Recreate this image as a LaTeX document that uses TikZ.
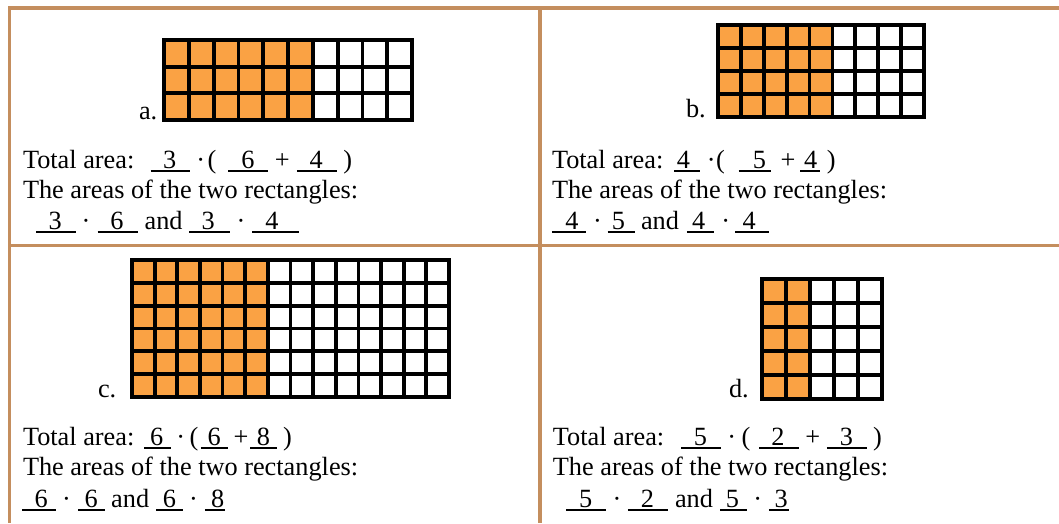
\documentclass[tikz,border=0pt]{standalone}
\usepackage{fontspec}
\setmainfont{Liberation Serif}
\definecolor{cellorange}{RGB}{250,162,68}
\definecolor{framebrown}{RGB}{196,142,94}
\tikzset{
  txt/.style={inner sep=0pt, outer sep=0pt, font=\fontsize{26.3}{30}\selectfont},
  gridline/.style={line width=3.8pt, black},
  gridframe/.style={line width=4.4pt, black},
  tableline/.style={line width=3.6pt, framebrown},
}
\newcommand\ubox[3]{\rlap{\rule[-4.3pt]{#1pt}{2pt}}\makebox[#1pt][l]{\makebox[#2pt][c]{#3}}}
% name, x(left), y(baseline), width, 2*centre-offset, text
\newcommand\bk[6]{\node[txt,anchor=base west] (#1) at (#2,#3) {\ubox{#4}{#5}{#6}};}
\newcommand\tw[4]{\node[txt,anchor=base west] (#1) at (#2,#3) {#4};}
\newcommand\tcn[4]{\node[txt,anchor=base] (#1) at (#2,#3) {#4};}
\newcommand\cellgrid[7]{%
  \pgfmathsetmacro\cw{(#3-#1)/#5}%
  \pgfmathsetmacro\rh{(#4-#2)/#6}%
  \pgfmathtruncatemacro\cm{#5-1}%
  \pgfmathtruncatemacro\rm{#6-1}%
  \fill[cellorange] (#1,#2) rectangle ({#1+#7*\cw},#4);
  \foreach \i in {1,...,\cm}{\draw[gridline] ({#1+\i*\cw},#2) -- ({#1+\i*\cw},#4);}
  \foreach \j in {1,...,\rm}{\draw[gridline] (#1,{#2+\j*\rh}) -- (#3,{#2+\j*\rh});}
  \draw[gridframe] (#1,#2) rectangle (#3,#4);
}
\begin{document}
\begin{tikzpicture}[x=1pt,y=-1pt]
\useasboundingbox (0,0) rectangle (1059,523);
% table frame
\draw[tableline] (9.5,8) -- (1059,8);
\draw[tableline] (9.5,245.5) -- (1059,245.5);
\draw[tableline] (9.5,6.2) -- (9.5,523);
\draw[tableline] (539.8,6.2) -- (539.8,523);

% grids
\cellgrid{164}{40}{412}{120}{10}{3}{6}
\cellgrid{718}{25}{924}{117}{9}{4}{5}
\cellgrid{132}{260}{449}{397}{14}{6}{6}
\cellgrid{762}{279}{882}{399}{5}{5}{2}

% labels
\tw{la}{139}{119}{a.}
\tw{lb}{686}{117}{b.}
\tw{lc}{98}{397}{c.}
\tw{ld}{729}{397}{d.}

% panel a
\tw{aT}{23}{168}{Total area:}
\bk{aB1}{150.5}{168}{39.2}{38.6}{3}
\tcn{aD1}{200.8}{168}{·}
\tcn{aP1}{212}{168}{(}
\bk{aB2}{228}{168}{40}{40}{6}
\tcn{aPl}{282.4}{168}{+}
\bk{aB3}{296.8}{168}{40}{38.6}{4}
\tcn{aP2}{347.8}{168}{)}
\tw{aR}{23}{198}{The areas of the two rectangles:}
\bk{aC1}{36.2}{229}{39.6}{37.8}{3}
\tcn{aD2}{86}{229}{·}
\bk{aC2}{97.5}{229}{40.2}{39}{6}
\tw{aAnd}{144.6}{229}{and}
\bk{aC3}{189.4}{229}{40.3}{37.8}{3}
\tcn{aD3}{241}{229}{·}
\bk{aC4}{252.4}{229}{46.2}{39.2}{4}

% panel b
\tw{bT}{552}{168}{Total area:}
\bk{bB1}{674.4}{168}{26}{18.2}{4}
\tcn{bD1}{711.2}{168}{·}
\tcn{bP1}{720.6}{168}{(}
\bk{bB2}{738.5}{168}{32.7}{41.8}{5}
\tcn{bPl}{788}{168}{+}
\bk{bB3}{800}{168}{20.2}{21.4}{4}
\tcn{bP2}{831.3}{168}{)}
\tw{bR}{552}{198}{The areas of the two rectangles:}
\bk{bC1}{551.9}{229}{33.8}{40.2}{4}
\tcn{bD2}{597.5}{229}{·}
\bk{bC2}{607.6}{229}{27}{21.6}{5}
\tw{bAnd}{641}{229}{and}
\bk{bC3}{686.9}{229}{27}{23.6}{4}
\tcn{bD3}{725.7}{229}{·}
\bk{bC4}{735}{229}{33.9}{28.6}{4}

% panel c
\tw{cT}{23}{445}{Total area:}
\bk{cB1}{144}{445}{26.8}{25.4}{6}
\tcn{cD1}{180.8}{445}{·}
\tcn{cP1}{193.9}{445}{(}
\bk{cB2}{200.8}{445}{27.2}{26.8}{6}
\tcn{cPl}{241}{445}{+}
\bk{cB3}{250}{445}{26.5}{26.8}{8}
\tcn{cP2}{287.5}{445}{)}
\tw{cR}{23}{475.5}{The areas of the two rectangles:}
\bk{cC1}{22.4}{507}{33.7}{37.8}{6}
\tcn{cD2}{66.5}{507}{·}
\bk{cC2}{78.2}{507}{26.8}{26.2}{6}
\tw{cAnd}{111.2}{507}{and}
\bk{cC3}{156}{507}{26.5}{26.8}{6}
\tcn{cD3}{193.5}{507}{·}
\bk{cC4}{204.9}{507}{19.6}{25.4}{8}

% panel d
\tw{dT}{552.9}{445}{Total area:}
\bk{dB1}{681.1}{445}{39.5}{38.6}{5}
\tcn{dD1}{731.8}{445}{·}
\tcn{dP1}{745.9}{445}{(}
\bk{dB2}{759.4}{445}{39.5}{37.2}{2}
\tcn{dPl}{812.7}{445}{+}
\bk{dB3}{826.9}{445}{39.8}{39.2}{3}
\tcn{dP2}{877.5}{445}{)}
\tw{dR}{552.9}{475.5}{The areas of the two rectangles:}
\bk{dC1}{566.1}{507}{39.8}{39.2}{5}
\tcn{dD2}{617}{507}{·}
\bk{dC2}{627.8}{507}{39.9}{39.2}{2}
\tw{dAnd}{675}{507}{and}
\bk{dC3}{720}{507}{26.6}{24.8}{5}
\tcn{dD3}{757.7}{507}{·}
\bk{dC4}{768.9}{507}{19.9}{24.8}{3}
\end{tikzpicture}
\end{document}
